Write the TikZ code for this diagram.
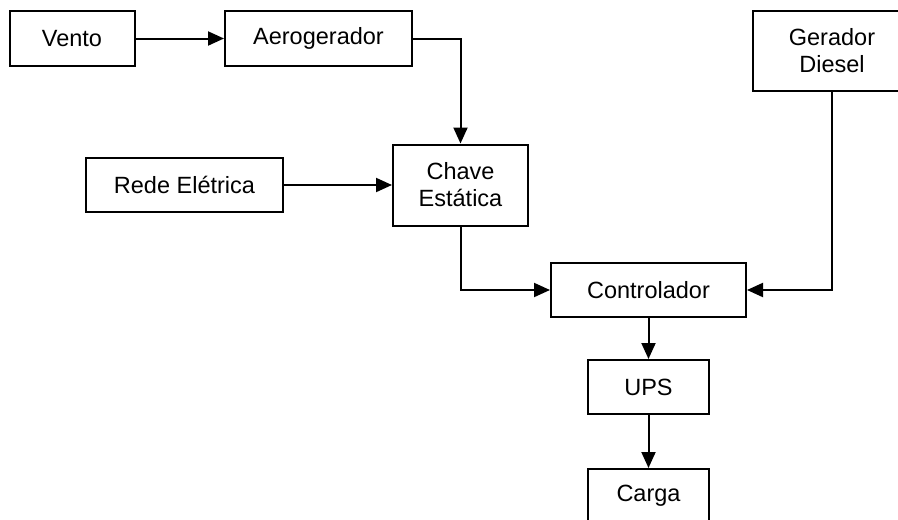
\documentclass[tikz,border=0pt]{standalone}
\usepackage{fontspec}
\setmainfont{Liberation Sans}
\usetikzlibrary{arrows.meta}
\begin{document}
\begin{tikzpicture}[x=1pt,y=-1pt,
  blk/.style={draw,line width=2pt,inner sep=0pt,align=center,
    font=\fontsize{23.5}{27}\selectfont},
  conn/.style={line width=2pt,-{Triangle[length=16pt,width=14pt]}}]
\useasboundingbox (0,0) rectangle (898,520);
\clip (0,0) rectangle (898,520);
\node[blk,minimum width=125pt,minimum height=55pt] (vento) at (72,38.5) {Vento};
\node[blk,minimum width=187pt,minimum height=55pt] (aero) at (318.5,38.5) {Aerogerador};
\node[blk,minimum width=158pt,minimum height=80pt] (diesel) at (832,51) {Gerador\\Diesel};
\node[blk,minimum width=197pt,minimum height=54pt] (rede) at (184.5,185) {Rede Elétrica};
\node[blk,minimum width=135pt,minimum height=81pt] (chave) at (460.5,185) {Chave\\Estática};
\node[blk,minimum width=195pt,minimum height=54pt] (ctrl) at (648.5,290) {Controlador};
\node[blk,minimum width=121pt,minimum height=54pt] (ups) at (648.5,387) {UPS};
\node[blk,minimum width=121pt,minimum height=54pt] (carga) at (648.5,496) {Carga};
\draw[conn] (vento.east) -- (aero.west);
\draw[conn] (aero.east) -| (chave.north);
\draw[conn] (rede.east) -- (chave.west);
\draw[conn] (chave.south) |- (ctrl.west);
\draw[conn] (diesel.south) |- (ctrl.east);
\draw[conn] (ctrl.south) -- (ups.north);
\draw[conn] (ups.south) -- (carga.north);
\end{tikzpicture}
\end{document}
